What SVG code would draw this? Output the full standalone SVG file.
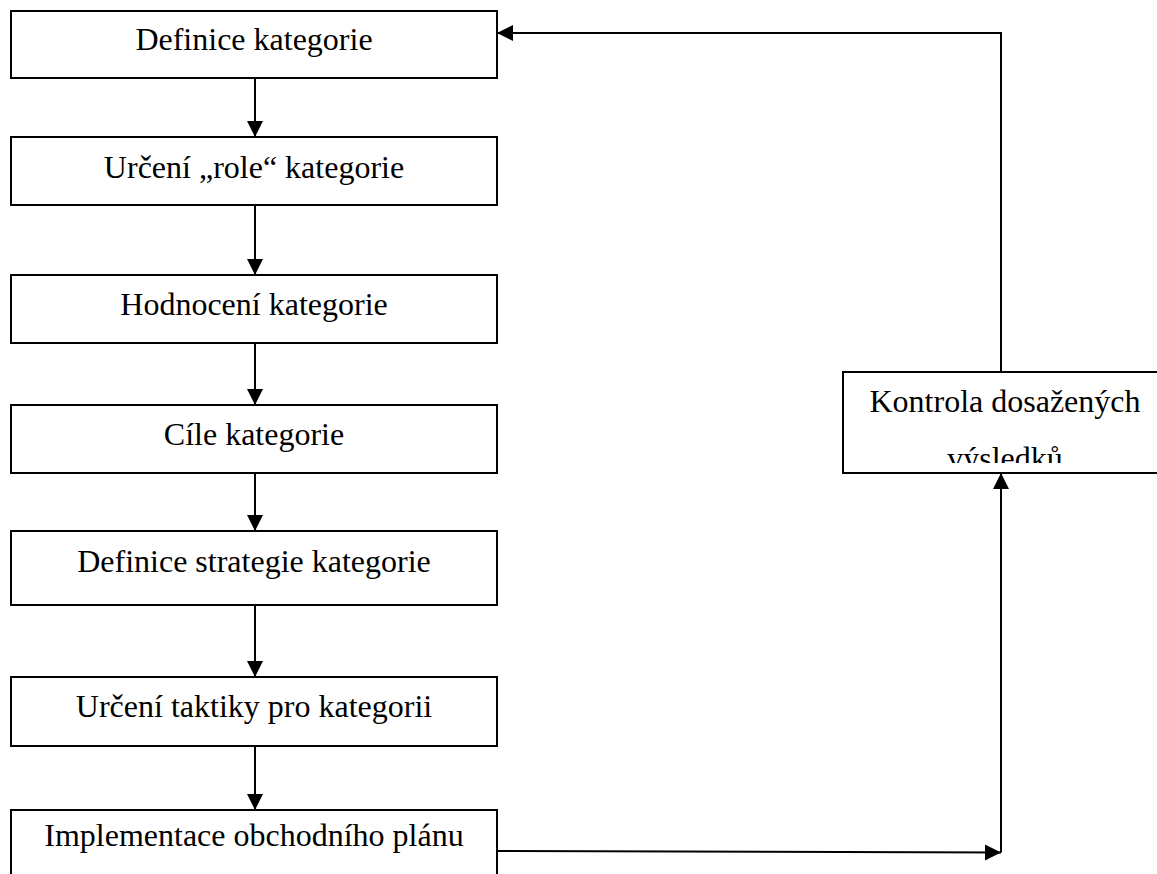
<svg xmlns="http://www.w3.org/2000/svg" width="1157" height="874" viewBox="0 0 1157 874">
<style>
.box{fill:#fff;stroke:#000;stroke-width:2}
.lbl{font-family:"Liberation Serif","Times New Roman",serif;font-size:32px;fill:#000;text-anchor:middle}
.con{fill:none;stroke:#000;stroke-width:2}
</style>
<defs>
<marker id="arr" markerUnits="userSpaceOnUse" markerWidth="17" markerHeight="17" refX="16" refY="8" orient="auto">
<path d="M0,0 L16,8 L0,16 z" fill="#000"/>
</marker>
<clipPath id="kclip"><rect x="843" y="372" width="320" height="91"/></clipPath>
</defs>
<rect width="1157" height="874" fill="#fff"/>
<g id="n1"><rect class="box" x="11" y="11" width="486" height="67"/><text class="lbl" x="254" y="50">Definice kategorie</text></g>
<g id="n2"><rect class="box" x="11" y="137" width="486" height="68"/><text class="lbl" x="254" y="178">Určení „role“ kategorie</text></g>
<g id="n3"><rect class="box" x="11" y="275" width="486" height="68"/><text class="lbl" x="254" y="315">Hodnocení kategorie</text></g>
<g id="n4"><rect class="box" x="11" y="405" width="486" height="68"/><text class="lbl" x="254" y="445">Cíle kategorie</text></g>
<g id="n5"><rect class="box" x="11" y="531" width="486" height="74"/><text class="lbl" x="254" y="572">Definice strategie kategorie</text></g>
<g id="n6"><rect class="box" x="11" y="677" width="486" height="69"/><text class="lbl" x="254" y="717">Určení taktiky pro kategorii</text></g>
<g id="n7"><rect class="box" x="11" y="810" width="486" height="80"/><text class="lbl" x="254" y="846">Implementace obchodního plánu</text></g>
<g id="n8"><rect class="box" x="843" y="372" width="325" height="101"/>
<g clip-path="url(#kclip)"><text class="lbl" x="1005" y="412">Kontrola dosažených</text><text class="lbl" x="1005" y="469">výsledků</text></g></g>
<g id="connectors">
<line class="con" x1="255" y1="78" x2="255" y2="137" marker-end="url(#arr)"/>
<line class="con" x1="255" y1="205" x2="255" y2="275" marker-end="url(#arr)"/>
<line class="con" x1="255" y1="343" x2="255" y2="405" marker-end="url(#arr)"/>
<line class="con" x1="255" y1="473" x2="255" y2="531" marker-end="url(#arr)"/>
<line class="con" x1="255" y1="605" x2="255" y2="677" marker-end="url(#arr)"/>
<line class="con" x1="255" y1="746" x2="255" y2="810" marker-end="url(#arr)"/>
<polyline class="con" points="1001,372 1001,33 497,33" marker-end="url(#arr)"/>
<line class="con" x1="497" y1="851" x2="1001" y2="852.5" marker-end="url(#arr)"/>
<line class="con" x1="1001" y1="852.5" x2="1001" y2="473" marker-end="url(#arr)"/>
</g>
</svg>
